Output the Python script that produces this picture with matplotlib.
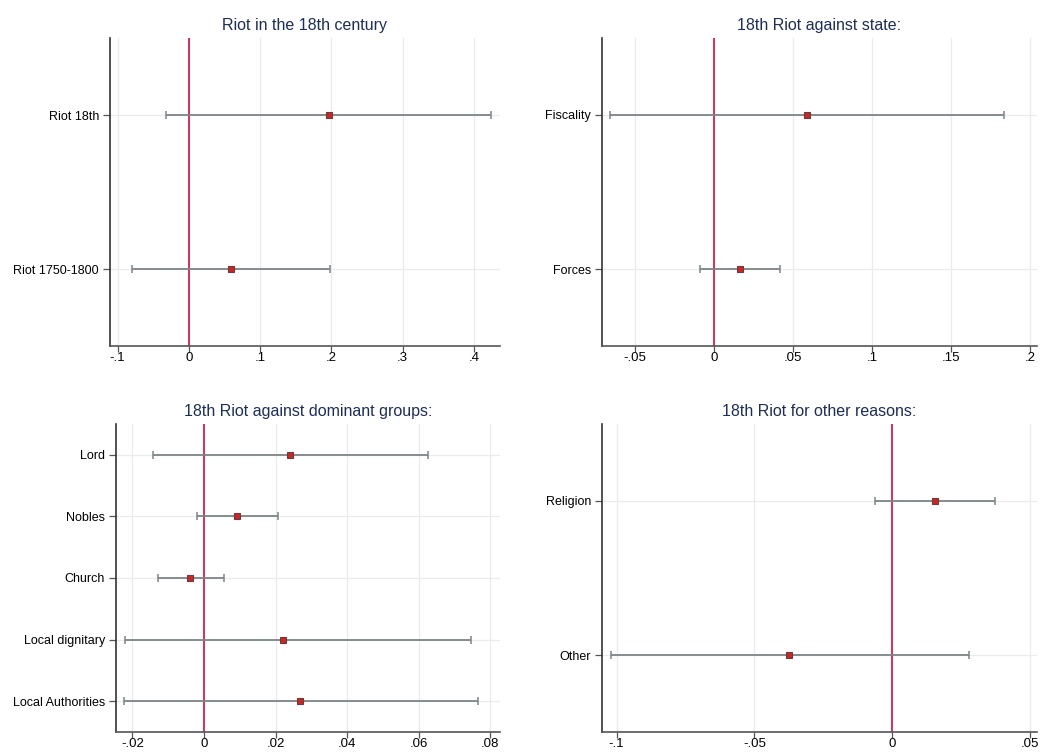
import numpy as np
import matplotlib
matplotlib.use("Agg")
import matplotlib.pyplot as plt

plt.rcParams['font.family'] = ['Liberation Sans', 'DejaVu Sans']

# ---- data (estimates, lower CI, upper CI) ----
labels1 = ["Riot 18th", "Riot 1750-1800"]
coef1 = [0.196, 0.0594]
lo1 = [-0.032, -0.0793]
hi1 = [0.424, 0.1976]

labels2 = ["Fiscality", "Forces"]
coef2 = [0.0585, 0.0163]
lo2 = [-0.0656, -0.0089]
hi2 = [0.1834, 0.0418]

labels3 = ["Lord", "Nobles", "Church", "Local dignitary", "Local Authorities"]
coef3 = [0.0239, 0.0093, -0.0038, 0.0222, 0.0269]
lo3 = [-0.0144, -0.0020, -0.0128, -0.0221, -0.0224]
hi3 = [0.0626, 0.0208, 0.0056, 0.0745, 0.0765]

labels4 = ["Religion", "Other"]
coef4 = [0.0155, -0.0373]
lo4 = [-0.0063, -0.1021]
hi4 = [0.0373, 0.0280]

titles = ["Riot in the 18th century", "18th Riot against state:",
          "18th Riot against dominant groups:", "18th Riot for other reasons:"]
xticks = [[-0.1, 0, 0.1, 0.2, 0.3, 0.4],
          [-0.05, 0, 0.05, 0.1, 0.15, 0.2],
          [-0.02, 0, 0.02, 0.04, 0.06, 0.08],
          [-0.1, -0.05, 0, 0.05]]
xlims = [(-0.1107, 0.4367), (-0.0709, 0.2043), (-0.0246, 0.0827), (-0.1053, 0.0525)]

W, H = 1040, 752
boxes = [(110, 500, 38, 346), (602, 1037, 38, 346),
         (116, 500, 424, 732), (602, 1037, 424, 732)]

def fmt(v):
    if v == 0:
        return "0"
    s = ("%g" % v)
    return s.replace("0.", ".")

fig = plt.figure(figsize=(10.4, 7.52), dpi=100)
data = [(labels1, coef1, lo1, hi1), (labels2, coef2, lo2, hi2),
        (labels3, coef3, lo3, hi3), (labels4, coef4, lo4, hi4)]

for i, (labs, c, lo, hi) in enumerate(data):
    l, r, t, b = boxes[i]
    ax = fig.add_axes([l / W, 1 - b / H, (r - l) / W, (b - t) / H])
    n = len(labs)
    y = np.arange(1, n + 1)
    c = np.array(c); lo = np.array(lo); hi = np.array(hi)
    ax.axvline(0, color='#d0103a', lw=1.2, zorder=2)
    ax.errorbar(c, y, xerr=[c - lo, hi - c], fmt='none', ecolor='#7d8587',
                elinewidth=1.3, capsize=3, capthick=1.1, zorder=3)
    ax.plot(c, y, 's', ms=5, mfc='#c62828', mec='#6b3a3a', mew=0.8, zorder=4)
    ax.set_ylim(n + 0.5, 0.5)
    ax.set_xlim(*xlims[i])
    ax.set_yticks(y)
    ax.set_yticklabels(labs, fontsize=9)
    ax.set_xticks(xticks[i])
    ax.set_xticklabels([fmt(v) for v in xticks[i]], fontsize=9.5)
    ax.grid(True, color='#ebebeb', lw=0.9, zorder=0)
    ax.set_axisbelow(True)
    for s in ['top', 'right']:
        ax.spines[s].set_visible(False)
    ax.spines['left'].set_color('#333333')
    ax.spines['bottom'].set_color('#555555')
    ax.spines['left'].set_linewidth(1.2)
    ax.spines['bottom'].set_linewidth(1.2)
    ax.tick_params(axis='y', length=5, color='#555555', width=0.9, pad=3)
    ax.tick_params(axis='x', length=4, color='#555555', width=0.9, pad=0.5)
    ax.set_title(titles[i], fontsize=11.5, color='#1e2d55', pad=6)

fig.savefig("out.png", dpi=100, facecolor='white')
